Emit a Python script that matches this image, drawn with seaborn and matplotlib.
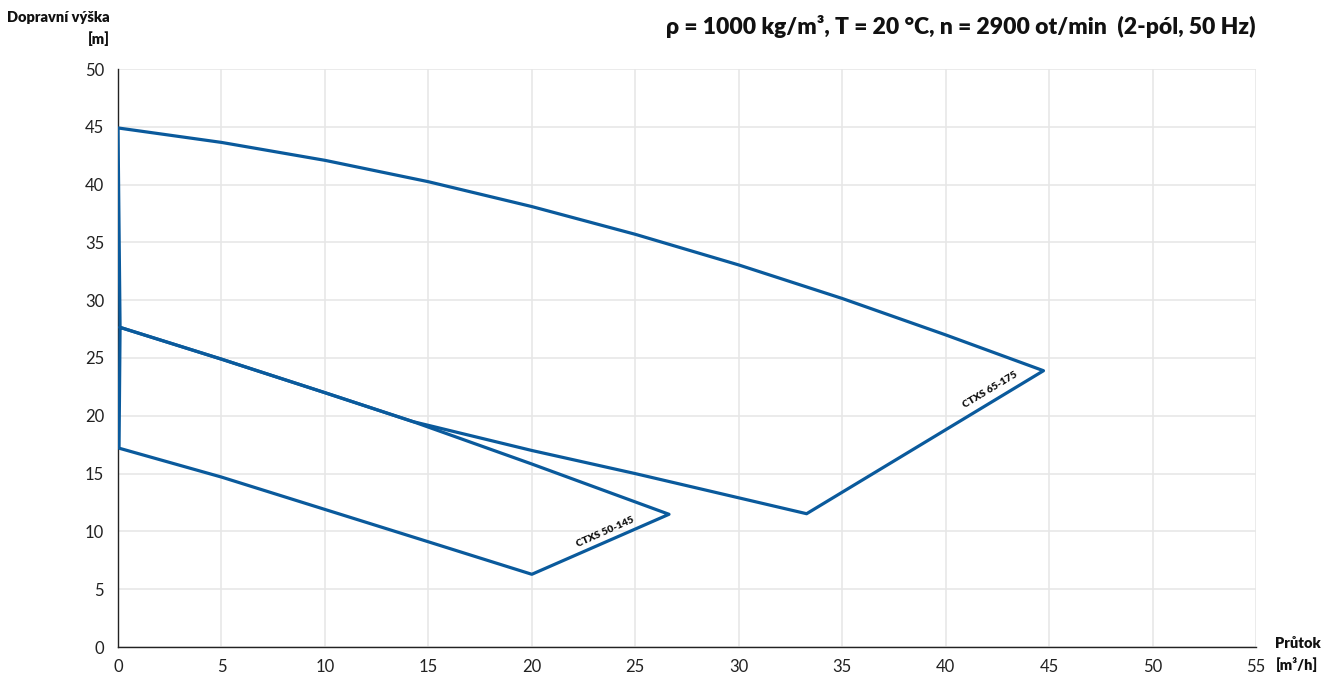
import pandas as pd
import matplotlib.pyplot as plt
import seaborn as sns

# ---------------------------------
# DATA
# ---------------------------------
# CTXS 65-175 envelope, closed path
q_65_175 = [0.1, 0.0, 5, 10, 15, 20, 25, 30, 35, 40, 44.73, 33.28, 25, 20, 14.25, 10, 5, 0.1]
h_65_175 = [27.65, 44.9, 43.65, 42.1, 40.25, 38.1, 35.7, 33.05, 30.15, 27.0, 23.9, 11.53, 15.0, 17.0, 19.5, 22.0, 24.9, 27.65]

# CTXS 50-145 envelope, closed path
q_50_145 = [0.1, 5, 10, 14.25, 20, 26.63, 20, 15, 10, 5, 0.05, 0.1]
h_50_145 = [27.65, 24.9, 22.0, 19.5, 15.83, 11.48, 6.29, 9.1, 11.9, 14.7, 17.2, 27.65]

labels = ["CTXS 65-175", "CTXS 50-145"]
label_pos = [(42.15, 22.2, 31), (23.55, 9.9, 24)]

x_ticks = list(range(0, 60, 5))
y_ticks = list(range(0, 55, 5))

title = "ρ = 1000 kg/m³, T = 20 °C, n = 2900 ot/min  (2-pól, 50 Hz)"

# ---------------------------------
# STYLE
# ---------------------------------
sns.set_style("white")
plt.rcParams['font.family'] = ['Lato', 'DejaVu Sans']

line_color = "#0a5a9c"

fig = plt.figure(figsize=(13.22, 6.75), dpi=100)
ax = fig.add_axes([118 / 1322, 1 - 647 / 675, (1256 - 118) / 1322, (647 - 69) / 675])

# ---------------------------------
# CURVES
# ---------------------------------
for q, h in [(q_65_175, h_65_175), (q_50_145, h_50_145)]:
    df = pd.DataFrame({"q": q, "h": h})
    sns.lineplot(data=df, x="q", y="h", sort=False, estimator=None,
                 color=line_color, linewidth=2.3, ax=ax, zorder=3)

for name, (lx, ly, rot) in zip(labels, label_pos):
    ax.text(lx, ly, name, rotation=rot, ha="center", va="center",
            fontsize=7.5, fontweight="heavy", color="#111111",
            rotation_mode="anchor", zorder=4)

# ---------------------------------
# AXES
# ---------------------------------
ax.set_xlim(0, 55)
ax.set_ylim(0, 50)
ax.set_xticks(x_ticks)
ax.set_yticks(y_ticks)
ax.grid(True, color="#e6e6e6", linewidth=1.1)
ax.set_axisbelow(True)
ax.set_xlabel("")
ax.set_ylabel("")
ax.tick_params(axis="both", length=0, labelsize=12, colors="#222222")
ax.tick_params(axis="x", pad=9)
ax.tick_params(axis="y", pad=10)

for side in ["top", "right"]:
    ax.spines[side].set_visible(False)
for side in ["left", "bottom"]:
    ax.spines[side].set_color("#222222")
    ax.spines[side].set_linewidth(1.0)

# ---------------------------------
# TEXTS
# ---------------------------------
fig.text(1256 / 1322, 1 - 27 / 675, title, ha="right", va="center",
         fontsize=16.5, fontweight="heavy", color="#111111")

fig.text(110 / 1322, 1 - 18 / 675, "Dopravní výška", ha="right", va="center",
         fontsize=10.5, fontweight="heavy", color="#111111")
fig.text(110 / 1322, 1 - 39 / 675, "[m]", ha="right", va="center",
         fontsize=10.5, fontweight="heavy", color="#111111")

fig.text(1298 / 1322, 1 - 643 / 675, "Průtok", ha="center", va="center",
         fontsize=10.5, fontweight="heavy", color="#111111")
fig.text(1297 / 1322, 1 - 664 / 675, "[m³/h]", ha="center", va="center",
         fontsize=10.5, fontweight="heavy", color="#111111")

fig.savefig("out.png", dpi=100)
